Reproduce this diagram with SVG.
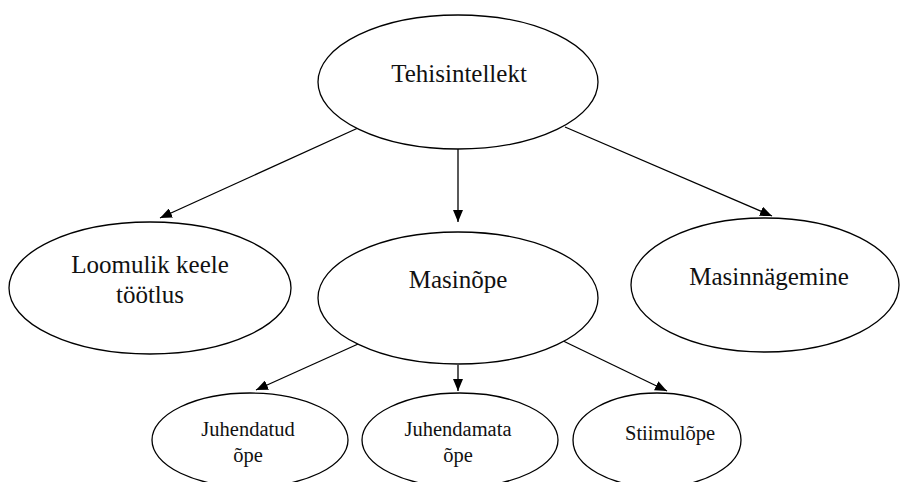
<svg xmlns="http://www.w3.org/2000/svg" width="900" height="482" viewBox="0 0 900 482">
<style>
.n{fill:#fff;stroke:#000;stroke-width:1.3}
.t{font-family:"Liberation Serif","Times New Roman",serif;fill:#111;text-anchor:middle}
.b{font-size:25px}
.s{font-size:20.5px}
.c{stroke:#000;stroke-width:1.3;fill:none;marker-end:url(#ah)}
</style>
<defs>
<marker id="ah" viewBox="0 0 12 10" refX="12" refY="5" markerWidth="12" markerHeight="10" markerUnits="userSpaceOnUse" orient="auto">
<path d="M0,0 L12,5 L0,10 Z" fill="#000"/>
</marker>
</defs>
<rect width="900" height="482" fill="#fff"/>
<g id="connectors">
<line class="c" x1="358" y1="128" x2="160" y2="218"/>
<line class="c" x1="458" y1="149" x2="458" y2="222"/>
<line class="c" x1="565" y1="127" x2="772" y2="216"/>
<line class="c" x1="367" y1="340" x2="256" y2="390"/>
<line class="c" x1="458" y1="365" x2="458" y2="391"/>
<line class="c" x1="557" y1="338" x2="667" y2="391"/>
</g>
<g id="tehisintellekt">
<ellipse class="n" cx="458" cy="82" rx="140" ry="67"/>
<text class="t b" x="459" y="82">Tehisintellekt</text>
</g>
<g id="loomulik">
<ellipse class="n" cx="150" cy="288" rx="141" ry="66"/>
<text class="t b" x="150" y="273">Loomulik keele</text>
<text class="t b" x="150" y="303">töötlus</text>
</g>
<g id="masinope">
<ellipse class="n" cx="458" cy="298" rx="140" ry="66"/>
<text class="t b" x="458" y="288">Masinõpe</text>
</g>
<g id="masinnagemine">
<ellipse class="n" cx="765" cy="285" rx="134" ry="67"/>
<text class="t b" x="769" y="285">Masinnägemine</text>
</g>
<g id="juhendatud">
<ellipse class="n" cx="250" cy="440" rx="98" ry="47"/>
<text class="t s" x="248" y="436">Juhendatud</text>
<text class="t s" x="248" y="462">õpe</text>
</g>
<g id="juhendamata">
<ellipse class="n" cx="460" cy="440" rx="98" ry="47"/>
<text class="t s" x="458" y="436">Juhendamata</text>
<text class="t s" x="458" y="462">õpe</text>
</g>
<g id="stiimulope">
<ellipse class="n" cx="657" cy="440" rx="84" ry="47"/>
<text class="t s" x="670" y="440">Stiimulõpe</text>
</g>
</svg>
